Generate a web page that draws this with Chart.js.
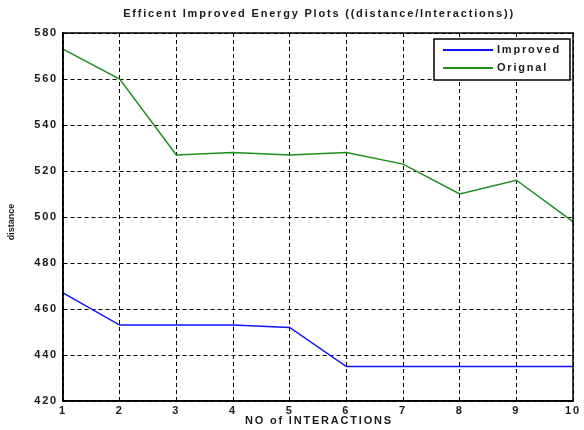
<!DOCTYPE html>
<html lang="en">
    <head>
        <meta charset="UTF-8">
        <title>Efficent Improved Energy Plots</title>
        <script src="https://cdn.jsdelivr.net/npm/chart.js"></script>
        <style type="text/css">
            body {
                margin: 0;
                background: #fff;
            }
            .chart {
                width: 584px;
                height: 430px;
            }
        </style>
    </head>
    <body>
        <div class="chart">
            <canvas id="myChart" width="584" height="430"></canvas>
        </div>
        <script>
            // data
            const interactions = ['1', '2', '3', '4', '5', '6', '7', '8', '9', '10'];
            const improved = [467, 453, 453, 453, 452, 435, 435, 435, 435, 435];
            const orignal = [573, 560, 527, 528, 527, 528, 523, 510, 516, 498];
            const yTicks = [420, 440, 460, 480, 500, 520, 540, 560, 580];

            const chartTitle = 'Efficent Improved Energy Plots ((distance/Interactions))';
            const xTitle = 'NO of INTERACTIONS';
            const yTitle = 'distance';

            const family = "'Liberation Sans', Arial, sans-serif";
            const font = { family: family, size: 11, weight: 'bold' };

            // the old matlab export has wide letter spacing on most text
            const wideText = {
                id: 'wideText',
                beforeDraw(chart) {
                    chart.ctx.letterSpacing = '1.8px';
                }
            };

            // title, axis titles, solid box round the plot, legend inside it
            const boxLegend = {
                id: 'boxLegend',
                afterDraw(chart) {
                    const ctx = chart.ctx;
                    const a = chart.chartArea;
                    ctx.save();
                    ctx.setLineDash([]);
                    ctx.strokeStyle = '#000';
                    ctx.lineWidth = 1.5;
                    ctx.strokeRect(a.left, a.top, a.right - a.left, a.bottom - a.top);

                    ctx.fillStyle = '#1a1a1a';
                    ctx.textAlign = 'center';
                    ctx.textBaseline = 'middle';
                    ctx.letterSpacing = '1.8px';
                    ctx.font = 'bold 11px ' + family;
                    ctx.fillText(chartTitle, (a.left + a.right) / 2 + 1, 14);
                    ctx.fillText(xTitle, (a.left + a.right) / 2 + 1, 421);

                    ctx.save();
                    ctx.letterSpacing = '0px';
                    ctx.font = 'bold 9px ' + family;
                    ctx.translate(12, (a.top + a.bottom) / 2 + 5);
                    ctx.rotate(-Math.PI / 2);
                    ctx.fillText(yTitle, 0, 0);
                    ctx.restore();

                    const w = 136, h = 41;
                    const x = a.right - w - 3, y = a.top + 6;
                    ctx.fillStyle = '#fff';
                    ctx.fillRect(x, y, w, h);
                    ctx.lineWidth = 1.5;
                    ctx.strokeStyle = '#000';
                    ctx.strokeRect(x, y, w, h);
                    ctx.textAlign = 'left';
                    chart.data.datasets.forEach(function (ds, i) {
                        const ly = y + 11 + i * 18;
                        ctx.strokeStyle = ds.borderColor;
                        ctx.lineWidth = 2;
                        ctx.beginPath();
                        ctx.moveTo(x + 9, ly);
                        ctx.lineTo(x + 59, ly);
                        ctx.stroke();
                        ctx.fillStyle = '#1a1a1a';
                        ctx.fillText(ds.label, x + 63, ly);
                    });
                    ctx.restore();
                }
            };

            const data = {
                labels: interactions,
                datasets: [{
                    label: 'Improved',
                    data: improved,
                    borderColor: '#1010ff',
                    borderWidth: 1.5,
                    pointRadius: 0,
                    fill: false
                },
                {
                    label: 'Orignal',
                    data: orignal,
                    borderColor: '#1c8f1c',
                    borderWidth: 1.5,
                    pointRadius: 0,
                    fill: false
                }]
            };

            const config = {
                type: 'line',
                data: data,
                options: {
                    responsive: false,
                    animation: false,
                    layout: { padding: { left: 0, right: 11, top: 33, bottom: 0 } },
                    plugins: {
                        legend: { display: false },
                        tooltip: { enabled: false },
                        title: { display: false }
                    },
                    scales: {
                        x: {
                            offset: false,
                            grid: { color: '#000', lineWidth: 1, drawTicks: false },
                            border: { display: true, color: '#000', width: 1.5, dash: [4, 3] },
                            ticks: { color: '#1a1a1a', font: font, padding: 3, maxRotation: 0, autoSkip: false },
                            afterFit: function (scale) { scale.height = 29; }
                        },
                        y: {
                            min: 420,
                            max: 580,
                            afterBuildTicks: function (scale) {
                                scale.ticks = yTicks.map(function (v) { return { value: v }; });
                            },
                            grid: { color: '#000', lineWidth: 1, drawTicks: false },
                            border: { display: true, color: '#000', width: 1.5, dash: [4, 3] },
                            ticks: { color: '#1a1a1a', font: font, padding: 5 },
                            afterFit: function (scale) { scale.width = 63; }
                        }
                    }
                },
                plugins: [wideText, boxLegend]
            };

            const myChart = new Chart(document.getElementById('myChart'), config);
        </script>
    </body>
</html>
